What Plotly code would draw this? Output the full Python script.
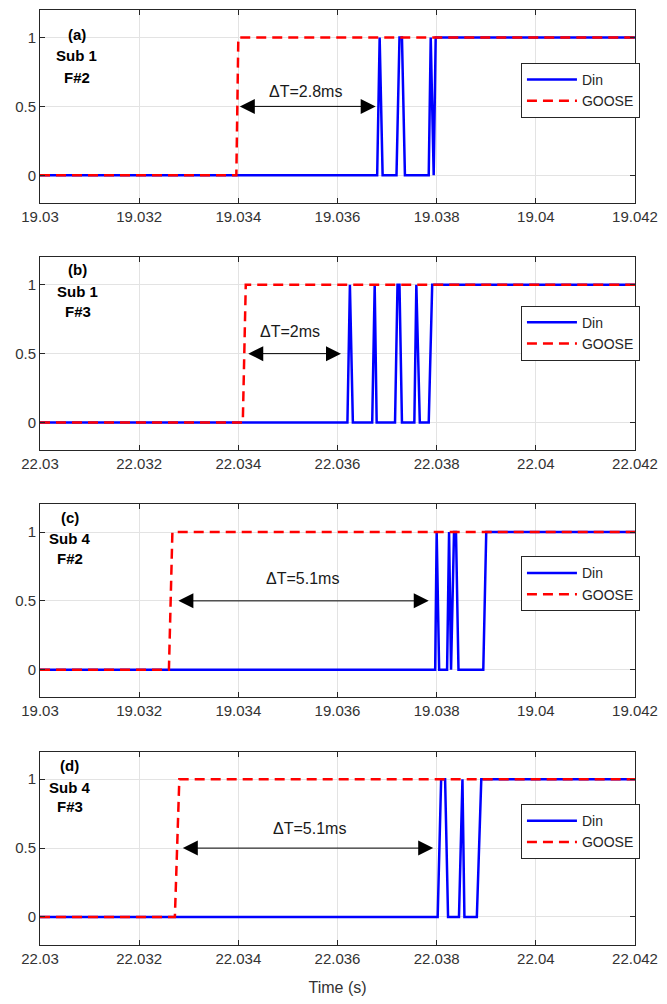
import plotly.graph_objects as go

# ---------------- data ----------------
x_ticks_a = [19.030, 19.032, 19.034, 19.036, 19.038, 19.040, 19.042]
x_labels_a = ["19.03", "19.032", "19.034", "19.036", "19.038", "19.04", "19.042"]
x_ticks_b = [22.030, 22.032, 22.034, 22.036, 22.038, 22.040, 22.042]
x_labels_b = ["22.03", "22.032", "22.034", "22.036", "22.038", "22.04", "22.042"]
y_ticks = [0, 0.5, 1]
y_labels = ["0", "0.5", "1"]

# (a) Sub 1 F#2
din_a_t = [19.030, 19.03680, 19.03685, 19.03691, 19.03719, 19.03725, 19.03730, 19.03736,
           19.03784, 19.03788, 19.03794, 19.03798, 19.042]
din_a_v = [0, 0, 1, 0, 0, 1, 1, 0, 0, 1, 0, 1, 1]
goose_a_t = [19.030, 19.03396, 19.03400, 19.042]
goose_a_v = [0, 0, 1, 1]

# (b) Sub 1 F#3
din_b_t = [22.030, 22.03620, 22.03625, 22.03631, 22.03670, 22.03675, 22.03679, 22.03716,
           22.03721, 22.03725, 22.03730, 22.03755, 22.03759, 22.03766, 22.03784, 22.03791, 22.042]
din_b_v = [0, 0, 1, 0, 0, 1, 0, 0, 1, 1, 0, 0, 1, 0, 0, 1, 1]
goose_b_t = [22.030, 22.03409, 22.03415, 22.042]
goose_b_v = [0, 0, 1, 1]

# (c) Sub 4 F#2
din_c_t = [19.030, 19.03797, 19.03800, 19.03805, 19.03821, 19.03825, 19.03829, 19.03835,
           19.03839, 19.03844, 19.03894, 19.03900, 19.042]
din_c_v = [0, 0, 1, 0, 0, 1, 0, 1, 1, 0, 0, 1, 1]
goose_c_t = [19.030, 19.03260, 19.03267, 19.042]
goose_c_v = [0, 0, 1, 1]

# (d) Sub 4 F#3
din_d_t = [22.030, 22.03802, 22.03809, 22.03817, 22.03823, 22.03845, 22.03852, 22.03856,
           22.03881, 22.03890, 22.042]
din_d_v = [0, 0, 1, 1, 0, 0, 1, 0, 0, 1, 1]
goose_d_t = [22.030, 22.03272, 22.03281, 22.042]
goose_d_v = [0, 0, 1, 1]

panel_tags = ["(a)", "(b)", "(c)", "(d)"]
panel_subs = ["Sub 1", "Sub 1", "Sub 4", "Sub 4"]
panel_feeders = ["F#2", "F#3", "F#2", "F#3"]
delta_labels = ["ΔT=2.8ms", "ΔT=2ms", "ΔT=5.1ms", "ΔT=5.1ms"]
arrow_start = [19.03400, 22.03417, 19.03276, 22.03285]
arrow_end = [19.03677, 22.03607, 19.03784, 22.03793]
delta_text_x = [19.03535, 22.03505, 19.03529, 22.03543]
delta_text_y = [0.61, 0.66, 0.66, 0.64]

panels = [
    (din_a_t, din_a_v, goose_a_t, goose_a_v, x_ticks_a, x_labels_a),
    (din_b_t, din_b_v, goose_b_t, goose_b_v, x_ticks_b, x_labels_b),
    (din_c_t, din_c_v, goose_c_t, goose_c_v, x_ticks_a, x_labels_a),
    (din_d_t, din_d_v, goose_d_t, goose_d_v, x_ticks_b, x_labels_b),
]

# ---------------- layout geometry ----------------
W, H = 667, 1004
M_L, M_R, M_T, M_B = 40, 26, 9, 59
PH = H - M_T - M_B
panel_px_h = 193
panel_tops = [9, 256.5, 504, 751.5]
tag_offsets = [(77, 25, 46, 68), (78, 12, 34, 54), (70, 13, 34, 54), (70, 13.5, 35.5, 55)]
legend_tops = [62, 305, 556, 804]

FONT = "Liberation Sans, Arial, sans-serif"
AX = "#262626"
GRID = "#e3e3e3"

fig = go.Figure()
layout = dict(
    width=W, height=H,
    margin=dict(l=M_L, r=M_R, t=M_T, b=M_B),
    paper_bgcolor="white", plot_bgcolor="white",
    font=dict(family=FONT, size=14, color=AX),
    annotations=[],
)

for i, (dt, dv, gt, gv, xt, xl) in enumerate(panels):
    n = "" if i == 0 else str(i + 1)
    xa, ya = "x" + n, "y" + n
    leg = "legend" + n
    fig.add_trace(go.Scatter(x=dt, y=dv, mode="lines", name="Din", xaxis=xa, yaxis=ya,
                             line=dict(color="#0000FF", width=2.5), legend=leg))
    fig.add_trace(go.Scatter(x=gt, y=gv, mode="lines", name="GOOSE", xaxis=xa, yaxis=ya,
                             line=dict(color="#FF0000", width=2.5, dash="10px,6px"), legend=leg))

    top = panel_tops[i]
    dom_top = 1 - (top - M_T) / PH
    dom_bot = 1 - (top + panel_px_h - M_T) / PH
    layout["xaxis" + n] = dict(
        domain=[0, 1], anchor=ya, range=[xt[0], xt[-1]],
        tickvals=xt, ticktext=xl, ticks="inside", ticklen=5, tickcolor=AX,
        showline=True, linecolor=AX, linewidth=1, mirror="ticks",
        showgrid=True, gridcolor=GRID, gridwidth=1, zeroline=False,
        tickfont=dict(size=15, color="#333333"),
    )
    layout["yaxis" + n] = dict(
        domain=[max(dom_bot, 0), dom_top], anchor=xa, range=[-0.2, 1.2],
        tickvals=y_ticks, ticktext=y_labels, ticks="inside", ticklen=5, tickcolor=AX,
        showline=True, linecolor=AX, linewidth=1, mirror="ticks",
        showgrid=True, gridcolor=GRID, gridwidth=1, zeroline=False,
        tickfont=dict(size=15, color="#333333"),
    )
    layout[leg] = dict(
        x=(646 - M_L) / (W - M_L - M_R), xanchor="right",
        y=1 - (legend_tops[i] - M_T) / PH, yanchor="top",
        bgcolor="white", bordercolor=AX, borderwidth=1, itemwidth=50,
        font=dict(size=14, color=AX), tracegroupgap=0,
    )

    cx, o1, o2, o3 = tag_offsets[i]
    for txt, off in zip([panel_tags[i], panel_subs[i], panel_feeders[i]], [o1, o2, o3]):
        layout["annotations"].append(dict(
            text="<b>" + txt + "</b>", xref=xa + " domain", yref=ya + " domain",
            x=(cx - M_L) / (W - M_L - M_R), y=1 - off / panel_px_h,
            showarrow=False, xanchor="center", yanchor="middle",
            font=dict(size=15, color="#000000", family=FONT)))

    layout["annotations"].append(dict(
        text="", xref=xa, yref=ya, x=arrow_end[i], y=0.5,
        axref=xa, ayref=ya, ax=arrow_start[i], ay=0.5,
        showarrow=True, arrowhead=2, arrowside="end+start", arrowsize=3,
        arrowwidth=1, arrowcolor="#000000", standoff=0, startstandoff=0))
    layout["annotations"].append(dict(
        text=delta_labels[i], xref=xa, yref=ya, x=delta_text_x[i], y=delta_text_y[i],
        showarrow=False, font=dict(size=16, color="#1a1a1a", family=FONT)))

layout["xaxis4"]["title"] = dict(text="Time (s)", font=dict(size=16, color="#333333"), standoff=16)

fig.update_layout(**layout)
fig.write_html("out.html")
